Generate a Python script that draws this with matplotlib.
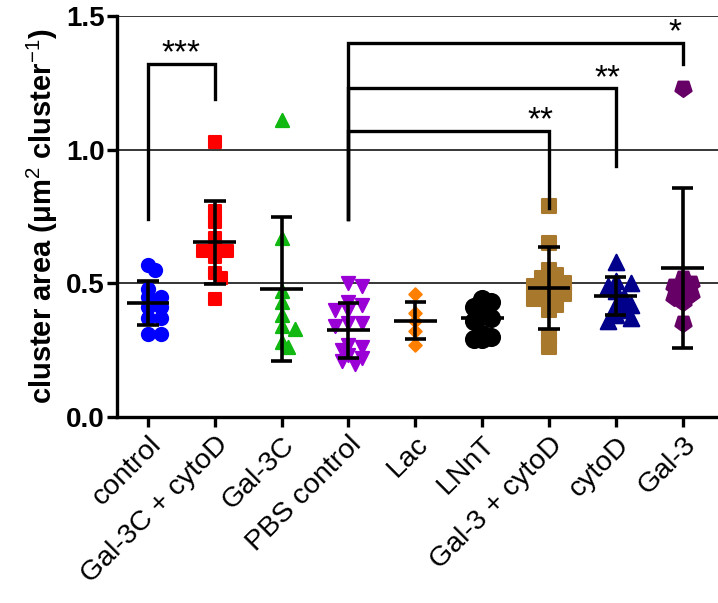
import numpy as np
import matplotlib
matplotlib.use("Agg")
import matplotlib.pyplot as plt
from matplotlib.markers import MarkerStyle
from matplotlib.transforms import Affine2D

plt.rcParams['font.family'] = ['Liberation Sans', 'DejaVu Sans']
plt.rcParams['mathtext.fontset'] = 'custom'
plt.rcParams['mathtext.rm'] = 'Liberation Sans'
plt.rcParams['mathtext.bf'] = 'Liberation Sans:bold'
plt.rcParams['mathtext.default'] = 'rm'

# ---------------- data ----------------
categories = ["control", "Gal-3C + cytoD", "Gal-3C", "PBS control", "Lac",
              "LNnT", "Gal-3 + cytoD", "cytoD", "Gal-3"]

control = [0.57, 0.55, 0.48, 0.45, 0.45, 0.43, 0.41, 0.41, 0.37, 0.37, 0.31, 0.31]
gal3c_cytod = [1.03, 0.77, 0.73, 0.67, 0.63, 0.62, 0.62, 0.60, 0.54, 0.52, 0.44]
gal3c = [1.11, 0.67, 0.47, 0.43, 0.38, 0.34, 0.33, 0.28, 0.26]
pbs_control = [0.50, 0.49, 0.43, 0.42, 0.40, 0.40, 0.35, 0.35, 0.34, 0.27,
               0.26, 0.25, 0.23, 0.22, 0.21, 0.20]
lac = [0.46, 0.39, 0.36, 0.32, 0.27]
lnnt = [0.44, 0.43, 0.41, 0.38, 0.37, 0.36, 0.31, 0.30, 0.29, 0.29]
gal3_cytod = [0.79, 0.65, 0.55, 0.53, 0.52, 0.50, 0.50, 0.49, 0.48, 0.47,
              0.46, 0.45, 0.44, 0.42, 0.40, 0.30, 0.26]
cytod = [0.58, 0.51, 0.50, 0.49, 0.47, 0.45, 0.42, 0.42, 0.40, 0.38, 0.37, 0.36]
gal3 = [1.23, 0.52, 0.50, 0.49, 0.48, 0.46, 0.45, 0.43, 0.35]

groups = [control, gal3c_cytod, gal3c, pbs_control, lac, lnnt, gal3_cytod, cytod, gal3]

means = [0.426, 0.653, 0.478, 0.325, 0.36, 0.37, 0.483, 0.453, 0.557]
sds = [0.082, 0.155, 0.27, 0.103, 0.07, 0.06, 0.153, 0.07, 0.298]

# significance brackets: (left group, right group, height, left leg end, right leg end, label)
brackets = [
    (0, 1, 1.32, 0.74, 1.19, "***"),
    (3, 8, 1.40, 0.74, 1.32, "*"),
    (3, 7, 1.23, 0.74, 0.94, "**"),
    (3, 6, 1.07, 0.74, 0.78, "**"),
]

# ---------------- styles ----------------
pent_down = MarkerStyle('p', transform=Affine2D().rotate_deg(180))
styles = [
    dict(marker='o', color='#0000FF', s=90),
    dict(marker='s', color='#FF0000', s=75),
    dict(marker='^', color='#11B811', s=90),
    dict(marker='v', color='#9A00D6', s=90),
    dict(marker='D', color='#FF8000', s=40),
    dict(marker='o', color='#000000', s=150),
    dict(marker='s', color='#A8782C', s=115),
    dict(marker='^', color='#00008B', s=125),
    dict(marker=pent_down, color='#660066', s=150),
]

fig = plt.figure(figsize=(7.18, 6.03), dpi=100)
ax = fig.add_axes([0.163, 0.3085, 0.837, 0.665])
ax.set_xlim(-0.464, 8.53)
ax.set_ylim(0, 1.5)

# pixel scale for swarm layout
ax_w_px = 0.837 * 718
ax_h_px = 0.665 * 603
px_per_x = ax_w_px / (8.53 + 0.464)
px_per_y = ax_h_px / 1.5


def swarm(values, diam_px, max_off=0.24):
    vals = np.asarray(values, dtype=float)
    order = np.argsort(-vals)
    placed = []
    offs = np.zeros(len(vals))
    step = diam_px * 0.5
    lim = max_off * px_per_x
    for i in order:
        y = vals[i] * px_per_y
        cands = [0.0]
        for k in range(1, 12):
            if k * step <= lim:
                cands += [k * step, -k * step]
        best, best_d = 0.0, -1
        for c in cands:
            d = min([np.hypot(px - c, py - y) for (px, py) in placed] + [1e9])
            if d >= diam_px * 0.6:
                best = c
                best_d = d
                break
            if d > best_d:
                best, best_d = c, d
        offs[i] = best
        placed.append((best, y))
    return offs / px_per_x


for i, (vals, st) in enumerate(zip(groups, styles)):
    diam = np.sqrt(st['s']) * 100 / 72
    offs = swarm(vals, diam)
    ax.scatter(i + offs, vals, marker=st['marker'], color=st['color'], s=st['s'],
               linewidths=1.5, edgecolors=st['color'], zorder=3)

# mean and SD
lw = 2.6
for i, (m, sd) in enumerate(zip(means, sds)):
    ax.plot([i - 0.32, i + 0.32], [m, m], color='black', lw=lw, zorder=4, solid_capstyle='butt')
    ax.plot([i, i], [m - sd, m + sd], color='black', lw=lw, zorder=4, solid_capstyle='butt')
    for yy in (m - sd, m + sd):
        ax.plot([i - 0.16, i + 0.16], [yy, yy], color='black', lw=lw, zorder=4, solid_capstyle='butt')

# gridlines
for g in (0.5, 1.0, 1.5):
    ax.axhline(g, color='black', lw=1.1, zorder=1)

# brackets
for (a, b, h, la, lb, lab) in brackets:
    ax.plot([a, a, b, b], [la, h, h, lb], color='black', lw=2.4,
            solid_joinstyle='miter', zorder=5, clip_on=False)
    x_txt = (a + b) / 2 if a == 0 else b - 0.12
    ax.text(x_txt, h + 0.005, lab, ha='center', va='baseline', fontsize=24)

# axes styling
for sp in ('top', 'right'):
    ax.spines[sp].set_visible(False)
for sp in ('left', 'bottom'):
    ax.spines[sp].set_linewidth(2.4)
ax.set_yticks([0.0, 0.5, 1.0, 1.5])
ax.set_yticklabels(['0.0', '0.5', '1.0', '1.5'], fontsize=20, fontweight='bold')
ax.set_xticks(range(len(categories)))
ax.set_xticklabels(categories, rotation=45, ha='right', rotation_mode='anchor', fontsize=20.5)
ax.tick_params(axis='both', direction='out', width=2.4, length=7)
ax.tick_params(axis='y', pad=2)
ax.set_ylabel('cluster area (μm$^2$ cluster$^{-1}$)', fontsize=21, fontweight='bold', labelpad=4)

fig.savefig('out.png', dpi=100)
